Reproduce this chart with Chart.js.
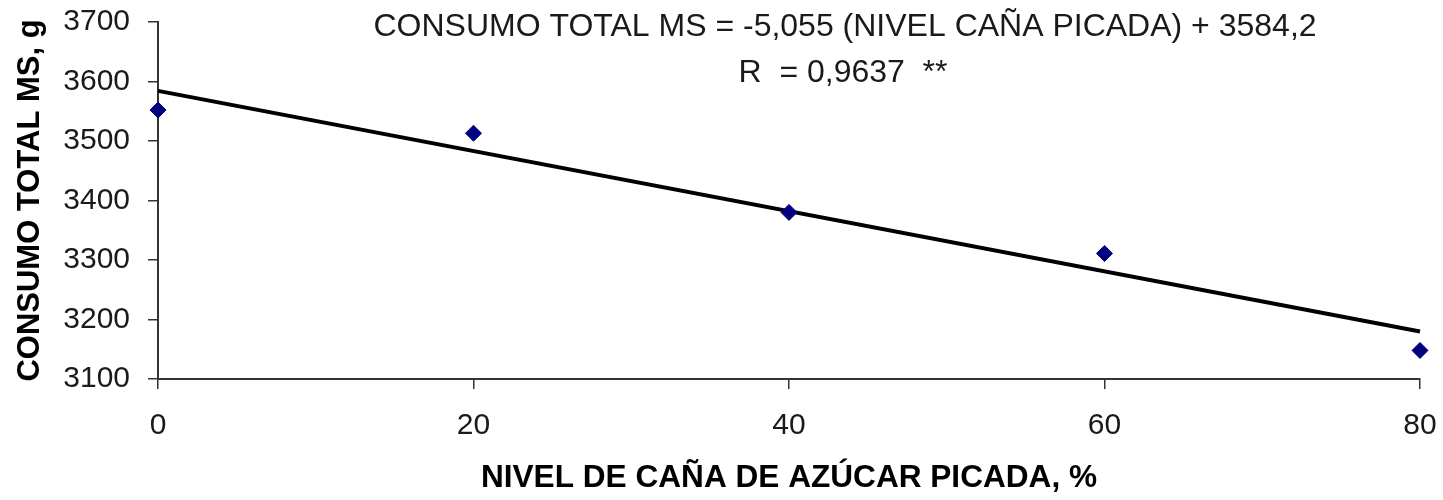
<!DOCTYPE html>
<html>
<head>
<meta charset="utf-8">
<title>Consumo total MS</title>
<script src="https://cdn.jsdelivr.net/npm/chart.js@4/dist/chart.umd.min.js"></script>
<style>
  html, body { margin: 0; padding: 0; background: #ffffff; }
  #wrap { width: 1443px; height: 500px; position: relative; }
</style>
</head>
<body>
<div id="wrap"><canvas id="c" width="1443" height="500"></canvas></div>
<script>
// Nivel de caña de azúcar picada (%) and consumo total de MS (g)
const nivelCana = [0, 20, 40, 60, 80];
const consumoMS = [3552, 3513, 3380, 3311, 3148];

// Regression line as stated in the equation
const pendiente = -5.055;
const intercepto = 3584.2;
const lineaX = [0, 80];

const ecuacion = 'CONSUMO TOTAL MS = -5,055 (NIVEL CAÑA PICADA) + 3584,2';
const ajuste = 'R  = 0,9637  **';

const yMin = 3100, yMax = 3700, yStep = 100;
const xMin = 0, xMax = 80, xStep = 20;

const puntos = nivelCana.map((x, i) => ({ x: x, y: consumoMS[i] }));
const recta = lineaX.map(x => ({ x: x, y: intercepto + pendiente * x }));

const FONT = '"Liberation Sans", Arial, sans-serif';
const AXIS = '#333333';

const textoEcuacion = {
  id: 'textoEcuacion',
  afterDraw(chart) {
    const ctx = chart.ctx;
    ctx.save();
    ctx.fillStyle = '#1a1a1a';
    ctx.font = '32px ' + FONT;
    ctx.textAlign = 'center';
    ctx.textBaseline = 'middle';
    ctx.fillText(ecuacion, 845, 27);
    ctx.fillText(ajuste, 843, 73);
    ctx.restore();
  }
};

new Chart(document.getElementById('c'), {
  type: 'scatter',
  data: {
    datasets: [
      {
        label: 'Recta',
        type: 'line',
        data: recta,
        borderColor: '#000000',
        borderWidth: 4,
        pointRadius: 0,
        fill: false,
        tension: 0,
        clip: false,
        order: 2
      },
      {
        label: 'Consumo',
        data: puntos,
        pointStyle: 'rectRot',
        pointRadius: 8,
        backgroundColor: '#000080',
        borderColor: '#000080',
        borderWidth: 1,
        clip: false,
        order: 1
      }
    ]
  },
  options: {
    responsive: false,
    animation: false,
    layout: { padding: { left: 0, right: 23, top: 22, bottom: 0 } },
    plugins: {
      legend: { display: false },
      tooltip: { enabled: false },
      title: { display: false }
    },
    scales: {
      x: {
        type: 'linear',
        min: xMin,
        max: xMax,
        afterFit(scale) {
          scale.height = 121;
          scale.paddingLeft = 0;
          scale.paddingRight = 0;
        },
        ticks: {
          stepSize: xStep,
          color: '#1a1a1a',
          padding: 19,
          maxRotation: 0,
          font: { family: FONT, size: 30 }
        },
        grid: {
          drawOnChartArea: false,
          drawTicks: true,
          tickLength: 10,
          color: AXIS,
          lineWidth: 1.5
        },
        border: { display: true, color: AXIS, width: 2 },
        title: {
          display: true,
          text: 'NIVEL DE CAÑA DE AZÚCAR PICADA, %',
          color: '#000000',
          font: { family: FONT, size: 31.6, weight: 'bold', lineHeight: 1 },
          padding: { top: 0, bottom: 6 }
        }
      },
      y: {
        type: 'linear',
        min: yMin,
        max: yMax,
        afterFit(scale) {
          scale.width = 158;
          scale.paddingTop = 0;
          scale.paddingBottom = 0;
        },
        ticks: {
          stepSize: yStep,
          color: '#1a1a1a',
          padding: 18,
          font: { family: FONT, size: 30 },
          callback: (v) => String(v)
        },
        grid: {
          drawOnChartArea: false,
          drawTicks: true,
          tickLength: 10,
          color: AXIS,
          lineWidth: 1.5
        },
        border: { display: true, color: AXIS, width: 2 },
        title: {
          display: true,
          text: 'CONSUMO TOTAL MS, g',
          color: '#000000',
          font: { family: FONT, size: 31, weight: 'bold', lineHeight: 1 },
          padding: { top: 15, bottom: 0 }
        }
      }
    }
  },
  plugins: [textoEcuacion]
});
</script>
</body>
</html>
